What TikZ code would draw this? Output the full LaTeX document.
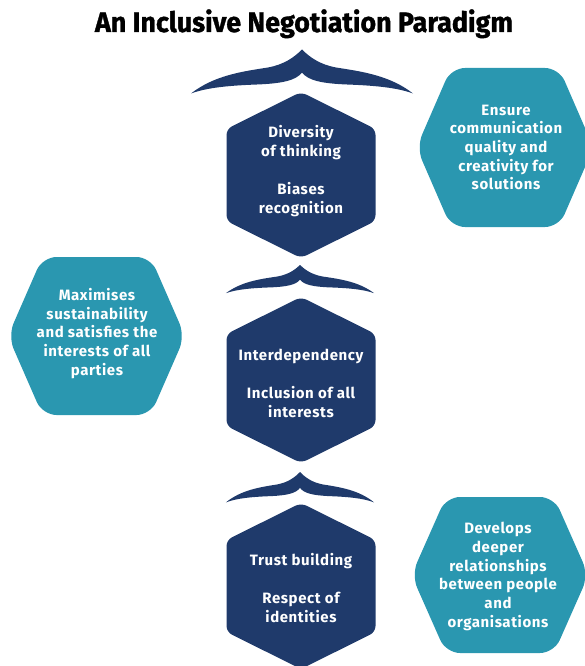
\documentclass[tikz,border=0pt]{standalone}
\usepackage{fontspec}
\usepackage{graphicx}
\setmainfont{Fira Sans}[LetterSpace=4]
\newfontfamily\headfont{Fira Sans}[FakeBold=1.2]
\definecolor{navyhex}{RGB}{31,58,107}
\definecolor{tealhex}{RGB}{42,151,176}

% central column hexagon: centre x, top y
\newcommand\colhex[2]{%
  \fill[navyhex, rounded corners=6pt] (#1,#2) -- ++(74.5,37) -- ++(0,92)
    -- ++(-74.5,37) -- ++(-74.5,-37) -- ++(0,-92) -- cycle;}
% side hexagon: centre x, centre y, half height
\newcommand\sidehex[3]{%
  \fill[tealhex, rounded corners=14pt] (#1-88.5,#2) -- (#1-54,#2-#3)
    -- (#1+54,#2-#3) -- (#1+88.5,#2) -- (#1+54,#2+#3) -- (#1-54,#2+#3) -- cycle;}

\tikzset{
  gullcap/.pic={
    \fill[navyhex] (0,0) .. controls (-8,8) and (-18,15) .. (-34,18)
      .. controls (-60,22) and (-88,26) .. (-111,44)
      .. controls (-95,38) and (-72,36) .. (-45,35)
      .. controls (-20,34) and (-6,31) .. (0,23)
      .. controls (6,31) and (20,34) .. (45,35)
      .. controls (72,36) and (95,38) .. (111,44)
      .. controls (88,26) and (60,22) .. (34,18)
      .. controls (18,15) and (8,8) .. cycle;
  },
  hexlabel/.style={text=white, align=center, inner sep=0pt,
    font=\bfseries\fontsize{15}{19}\selectfont},
  sidelabel/.style={hexlabel, font=\bfseries\fontsize{15}{18.7}\selectfont}
}

\begin{document}
\begin{tikzpicture}[x=1pt, y=-1pt]
\useasboundingbox (0,0) rectangle (585,666);
\clip (0,0) rectangle (585,666);

% title
\node[anchor=base, inner sep=0pt] (title) at (304,32)
  {\resizebox{418pt}{\height}{\headfont\bfseries\fontsize{28}{30}\selectfont An Inclusive Negotiation Paradigm}};

% caps above each central hexagon
\pic (capA) at (302,49.5) {gullcap};
\pic[xscale=0.667, yscale=0.64] (capB) at (300,265) {gullcap};
\pic[xscale=0.667, yscale=0.69] (capC) at (300,472) {gullcap};

% central hexagons
\colhex{301}{92}
\colhex{301}{297}
\colhex{301}{503}

% side hexagons
\sidehex{505}{147.5}{79.5}
\sidehex{96.5}{336}{79}
\sidehex{500}{575}{78}

% labels
\node[hexlabel] (diversity) at (301,171) {Diversity\\of thinking\\[19pt]Biases\\recognition};
\node[hexlabel] (interdep) at (301,383.5) {Interdependency\\[19pt]Inclusion of all\\interests};
\node[hexlabel] (trust) at (301,588.5) {Trust building\\[19pt]Respect of\\identities};

\node[sidelabel] (ensure) at (506,147.5) {Ensure\\communication\\quality and\\creativity for\\solutions};
\node[sidelabel] (maxim) at (97,333.5) {Maximises\\sustainability\\and satisfies the\\interests of all\\parties};
\node[sidelabel] (develops) at (498,576.5) {Develops\\deeper\\relationships\\between people\\and\\organisations};
\end{tikzpicture}
\end{document}
